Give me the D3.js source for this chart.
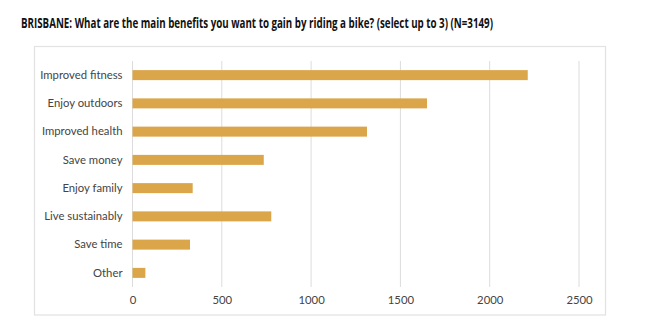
<!DOCTYPE html>
<html>
<head>
<meta charset="utf-8">
<script src="https://cdn.jsdelivr.net/npm/d3@7"></script>
<style>
  body { margin: 0; background: #fff; }
  svg { display: block; }
</style>
</head>
<body>
<svg id="chart"></svg>
<script>
// Datos del gráfico ----------------------------------------------------------
const categories = ["Improved fitness", "Enjoy outdoors", "Improved health", "Save money",
                    "Enjoy family", "Live sustainably", "Save time", "Other"];
const counts = [2213, 1649, 1313, 735, 337, 777, 322, 72];
const xTicks = [0, 500, 1000, 1500, 2000, 2500];
const title = "BRISBANE:  What are the main benefits you want to gain by riding a bike? (select up to 3) (N=3149)";

// Configuración -------------------------------------------------------------
const width = 650;
const height = 331;
const margin = { top: 61, right: 71, bottom: 44, left: 132.5 };

const svg = d3.select("#chart")
    .attr("width", width)
    .attr("height", height);

// Marco exterior
svg.append("rect")
    .attr("x", 34.5).attr("y", 46.5)
    .attr("width", 571).attr("height", 268.5)
    .attr("fill", "none")
    .attr("stroke", "#e2e2e2")
    .attr("stroke-width", 1.2);

// Título
svg.append("text")
    .attr("x", 21).attr("y", 27.5)
    .attr("font-family", "'Open Sans', sans-serif")
    .attr("font-weight", "bold")
    .attr("font-size", 13.5)
    .attr("fill", "#111")
    .attr("textLength", 472)
    .attr("lengthAdjust", "spacingAndGlyphs")
    .text(title);

// Escalas
const x = d3.scaleLinear()
    .domain([0, 2500])
    .range([margin.left, margin.left + 446.5]);

const y = d3.scaleBand()
    .domain(categories)
    .range([margin.top, height - margin.bottom])
    .paddingInner(0.646)
    .paddingOuter(0.323);

// Líneas de cuadrícula
svg.append("g")
    .selectAll("line")
    .data(xTicks)
    .join("line")
    .attr("x1", d => x(d)).attr("x2", d => x(d))
    .attr("y1", margin.top).attr("y2", 287)
    .attr("stroke", "#dcdcdc")
    .attr("stroke-width", 1);

// Barras
svg.append("g")
    .selectAll("rect")
    .data(categories)
    .join("rect")
    .attr("x", x(0))
    .attr("y", d => y(d))
    .attr("width", (d, i) => x(counts[i]) - x(0))
    .attr("height", y.bandwidth())
    .attr("fill", "#dba54a");

// Eje Y (etiquetas)
const yAxis = svg.append("g")
    .attr("transform", `translate(${margin.left},0)`)
    .call(d3.axisLeft(y).tickSize(0).tickPadding(10));
yAxis.select(".domain").remove();
yAxis.selectAll("text")
    .attr("font-family", "Lato, sans-serif")
    .attr("font-size", 11.3)
    .attr("fill", "#444");

// Eje X (etiquetas)
const xAxis = svg.append("g")
    .attr("transform", `translate(0,287)`)
    .call(d3.axisBottom(x).tickValues(xTicks).tickFormat(d3.format("d")).tickSize(0).tickPadding(9));
xAxis.select(".domain").remove();
xAxis.selectAll("text")
    .attr("font-family", "Lato, sans-serif")
    .attr("font-size", 11.3)
    .attr("fill", "#444");
</script>
</body>
</html>
